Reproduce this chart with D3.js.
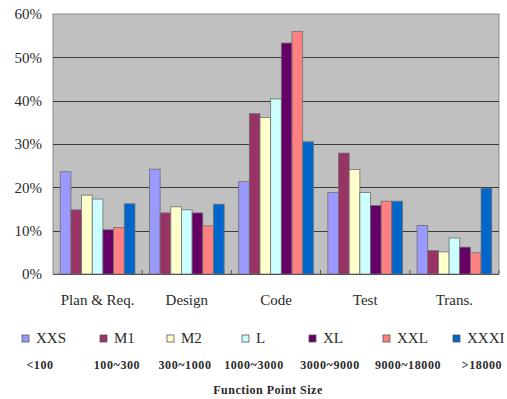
<!DOCTYPE html>
<html>
<head>
<meta charset="utf-8">
<script src="https://cdn.jsdelivr.net/npm/d3@7"></script>
<style>
  html, body { margin: 0; padding: 0; background: #fff; }
  svg { display: block; }
  svg text { font-family: "Liberation Serif", "Times New Roman", serif; }
</style>
</head>
<body>
<svg id="chart" width="507" height="399"></svg>
<script>
// Development phases on the x axis
const phases = ["Plan & Req.", "Design", "Code", "Test", "Trans."];

// Project size classes (series)
const sizes = ["XXS", "M1", "M2", "L", "XL", "XXL", "XXXI"];
const sizeRanges = ["<100", "100~300", "300~1000", "1000~3000", "3000~9000", "9000~18000", ">18000"];
const sizeColors = ["#9999FF", "#993366", "#FFFFCC", "#CCFFFF", "#660066", "#FF8080", "#0066CC"];

// Share of effort per phase, one array per size class (fractions)
const XXS  = [0.236, 0.242, 0.213, 0.188, 0.112];
const M1   = [0.148, 0.141, 0.370, 0.279, 0.054];
const M2   = [0.182, 0.155, 0.361, 0.241, 0.051];
const L    = [0.173, 0.148, 0.404, 0.188, 0.083];
const XL   = [0.102, 0.141, 0.533, 0.158, 0.062];
const XXL  = [0.107, 0.111, 0.560, 0.168, 0.049];
const XXXI = [0.162, 0.161, 0.305, 0.168, 0.198];
const seriesValues = [XXS, M1, M2, L, XL, XXL, XXXI];

const yTicks = [0, 0.1, 0.2, 0.3, 0.4, 0.5, 0.6];
const axisTitle = "Function Point Size";

// Layout
const FONT = "Liberation Serif";
const plot = { left: 53, top: 14, right: 499, bottom: 274 };
const legendMarkerX = [22, 100, 167, 242, 309, 383, 453];
const rangeLabelX = [40, 117, 185, 254, 330, 408, 482];

const svg = d3.select("#chart");

const x0 = d3.scaleBand().domain(phases).range([plot.left, plot.right]).padding(0);
const x1 = d3.scaleBand().domain(sizes).range([0, x0.bandwidth()])
  .paddingInner(0).paddingOuter(0.68);
const y = d3.scaleLinear().domain([0, 0.6]).range([plot.bottom, plot.top]);
const color = d3.scaleOrdinal().domain(sizes).range(sizeColors);

// Plot background
svg.append("rect")
  .attr("x", plot.left).attr("y", plot.top)
  .attr("width", plot.right - plot.left).attr("height", plot.bottom - plot.top)
  .attr("fill", "#C0C0C0").attr("stroke", "#8a8a8a").attr("stroke-width", 1);

// Horizontal gridlines
svg.append("g")
  .selectAll("line")
  .data(yTicks.filter(d => d > 0 && d < 0.6))
  .join("line")
  .attr("x1", plot.left).attr("x2", plot.right)
  .attr("y1", d => Math.round(y(d)) + 0.5).attr("y2", d => Math.round(y(d)) + 0.5)
  .attr("stroke", "#3a3a3a").attr("stroke-width", 1);

// Y axis labels
const yAxis = d3.axisLeft(y).tickValues(yTicks).tickFormat(d3.format(".0%")).tickSize(0).tickPadding(11);
svg.append("g")
  .attr("transform", `translate(${plot.left},0)`)
  .call(yAxis)
  .call(g => g.select(".domain").remove())
  .call(g => g.attr("font-family", FONT))
  .call(g => g.selectAll("text")
    .attr("font-family", FONT)
    .attr("font-size", 15).attr("fill", "#2a2a2a"));

// Bars
const groups = svg.append("g")
  .selectAll("g")
  .data(phases)
  .join("g")
  .attr("transform", d => `translate(${x0(d)},0)`);

groups.selectAll("rect")
  .data((p, i) => sizes.map((s, k) => ({ size: s, value: seriesValues[k][i] })))
  .join("rect")
  .attr("x", d => x1(d.size))
  .attr("y", d => y(d.value))
  .attr("width", x1.bandwidth())
  .attr("height", d => y(0) - y(d.value))
  .attr("fill", d => color(d.size))
  .attr("stroke", "#6f6f6f")
  .attr("stroke-width", 0.8);

// Category axis with small tick marks at group boundaries
const xAxisG = svg.append("g");
xAxisG.append("line")
  .attr("x1", plot.left).attr("x2", plot.right)
  .attr("y1", plot.bottom + 0.5).attr("y2", plot.bottom + 0.5)
  .attr("stroke", "#555").attr("stroke-width", 1);
xAxisG.selectAll("line.tick")
  .data(phases.slice(1).concat(["end"]))
  .join("line")
  .attr("class", "tick")
  .attr("x1", (d, i) => i < phases.length - 1 ? x0(d) : plot.right)
  .attr("x2", (d, i) => i < phases.length - 1 ? x0(d) : plot.right)
  .attr("y1", plot.bottom - 4).attr("y2", plot.bottom)
  .attr("stroke", "#555").attr("stroke-width", 1);

svg.append("g")
  .selectAll("text")
  .data(phases)
  .join("text")
  .attr("x", d => x0(d) + x0.bandwidth() / 2)
  .attr("y", 305)
  .attr("text-anchor", "middle")
  .attr("font-family", FONT)
  .attr("font-size", 15)
  .attr("fill", "#2a2a2a")
  .text(d => d);

// Legend
const legend = svg.append("g");
const items = legend.selectAll("g")
  .data(sizes)
  .join("g")
  .attr("transform", (d, i) => `translate(${legendMarkerX[i]},335)`);
items.append("rect")
  .attr("width", 7).attr("height", 7)
  .attr("fill", d => color(d))
  .attr("stroke", "#555").attr("stroke-width", 0.8);
items.append("text")
  .attr("x", 14).attr("y", 8)
  .attr("font-family", FONT)
  .attr("font-size", 15)
  .attr("fill", "#2a2a2a")
  .text(d => d);

// Size range labels
svg.append("g")
  .selectAll("text")
  .data(sizeRanges)
  .join("text")
  .attr("x", (d, i) => rangeLabelX[i])
  .attr("y", 368.5)
  .attr("text-anchor", "middle")
  .attr("font-family", FONT)
  .attr("font-size", 12)
  .attr("letter-spacing", 0.6)
  .attr("font-weight", "bold")
  .attr("fill", "#2a2a2a")
  .text(d => d);

svg.append("text")
  .attr("x", 268).attr("y", 393.5)
  .attr("text-anchor", "middle")
  .attr("font-family", FONT)
  .attr("font-size", 12)
  .attr("letter-spacing", 0.5)
  .attr("font-weight", "bold")
  .attr("fill", "#2a2a2a")
  .text(axisTitle);
</script>
</body>
</html>
